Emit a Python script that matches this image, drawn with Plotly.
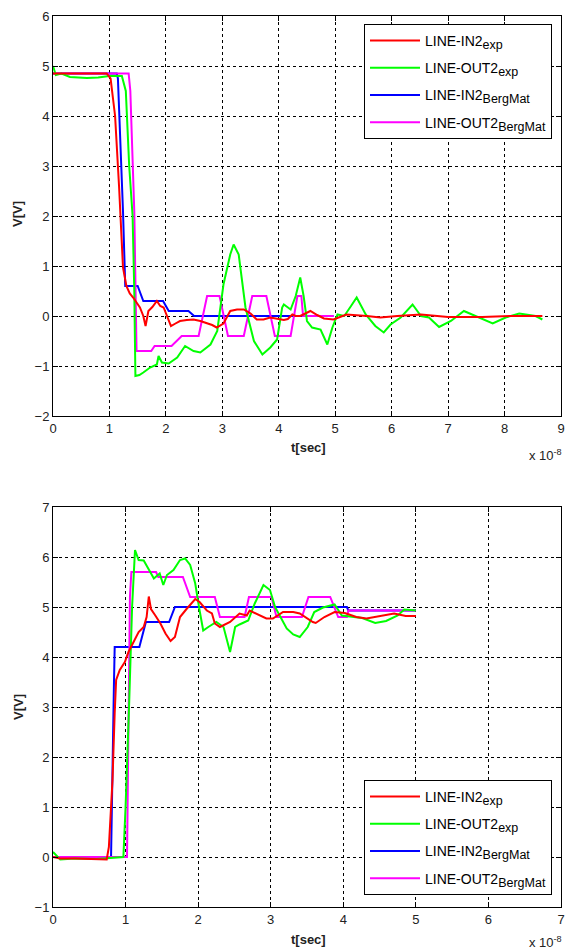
import plotly.graph_objects as go

# ---------------- data (time in units of 1e-8 s) ----------------
# Top panel
top_in2_exp_t = [0, 0.5, 0.95, 1.02, 1.1, 1.17, 1.24, 1.3, 1.36, 1.42, 1.48, 1.54, 1.6, 1.64, 1.69, 1.76, 1.84, 1.9, 1.96,
                 2.02, 2.09, 2.17, 2.25, 2.37, 2.49, 2.61, 2.73, 2.82, 2.9, 3.02, 3.14, 3.26, 3.38, 3.5, 3.61, 3.73, 3.85,
                 3.97, 4.09, 4.16, 4.24, 4.3, 4.38, 4.47, 4.56, 4.68, 4.8, 4.97, 5.2, 5.56, 5.8, 6.1, 6.52, 7.0, 7.6, 8.1, 8.67]
top_in2_exp_v = [4.85, 4.85, 4.85, 4.75, 4.0, 2.6, 0.97, 0.6, 0.45, 0.37, 0.27, 0.17, 0.0, -0.2, 0.1, 0.18, 0.3, 0.2, 0.17,
                 0.0, -0.2, -0.15, -0.1, -0.08, -0.07, -0.1, -0.15, -0.18, -0.23, -0.15, 0.1, 0.13, 0.13, 0.05, -0.07, -0.07, -0.03,
                 -0.05, -0.08, -0.06, 0.03, 0.0, 0.0, 0.05, 0.1, 0.02, -0.05, -0.07, 0.03, 0.0, -0.03, 0.0, 0.03, -0.02, -0.02, 0.0, 0.0]

top_out2_exp_t = [0, 0.05, 0.15, 0.3, 0.6, 0.8, 1.0, 1.22, 1.29, 1.35, 1.41, 1.44, 1.46, 1.53, 1.6, 1.72, 1.84, 1.87, 1.93,
                  2.05, 2.2, 2.34, 2.49, 2.61, 2.79, 2.91, 3.02, 3.14, 3.2, 3.29, 3.41, 3.56, 3.71, 3.85, 3.97, 4.06, 4.09,
                  4.21, 4.3, 4.38, 4.44, 4.5, 4.59, 4.74, 4.86, 4.95, 5.04, 5.16, 5.28, 5.38, 5.54, 5.71, 5.86, 5.98,
                  6.16, 6.37, 6.52, 6.66, 6.84, 7.05, 7.28, 7.49, 7.79, 8.02, 8.26, 8.55, 8.67]
top_out2_exp_v = [5.0, 4.82, 4.85, 4.78, 4.76, 4.77, 4.8, 4.8, 4.5, 3.0, 2.0, 0.5, -1.2, -1.18, -1.13, -1.03, -0.97, -0.8, -0.93,
                  -0.95, -0.83, -0.6, -0.7, -0.73, -0.57, -0.3, 0.63, 1.23, 1.43, 1.23, 0.17, -0.5, -0.77, -0.63, -0.47, 0.17, 0.23,
                  0.13, 0.4, 0.77, 0.4, -0.1, -0.23, -0.27, -0.57, -0.23, 0.03, 0.0, 0.2, 0.37, 0.03, -0.2, -0.33, -0.17,
                  -0.03, 0.23, 0.0, -0.03, -0.22, -0.1, 0.1, 0.0, -0.15, -0.03, 0.05, 0.0, -0.07]

top_in2_berg_t = [0, 1.13, 1.15, 1.2, 1.24, 1.28, 1.5, 1.6, 1.95, 2.05, 2.4, 2.5, 4.97]
top_in2_berg_v = [4.85, 4.85, 4.75, 3.44, 2.1, 0.6, 0.6, 0.3, 0.3, 0.1, 0.1, 0.0, 0.0]

top_out2_berg_t = [0, 1.34, 1.37, 1.39, 1.41, 1.44, 1.48, 1.74, 1.8, 2.1, 2.28, 2.58, 2.73, 2.95, 3.1, 3.38, 3.53,
                   3.78, 3.93, 4.21, 4.33, 4.4, 4.43, 4.97]
top_out2_berg_v = [4.85, 4.85, 4.5, 3.7, 2.9, 2.1, -0.7, -0.7, -0.6, -0.6, -0.4, -0.4, 0.4, 0.4, -0.4, -0.4, 0.4,
                   0.4, -0.4, -0.4, 0.4, 0.4, 0.0, 0.0]

# Bottom panel
bot_in2_exp_t = [0, 0.1, 0.3, 0.5, 0.74, 0.77, 0.82, 0.85, 0.87, 0.92, 0.99, 1.04, 1.11, 1.18, 1.25, 1.29, 1.32, 1.35, 1.41,
                 1.48, 1.55, 1.62, 1.68, 1.75, 1.84, 1.96, 2.02, 2.12, 2.19, 2.23, 2.3, 2.44, 2.57, 2.67, 2.71, 2.8, 2.94,
                 3.03, 3.17, 3.31, 3.4, 3.58, 3.62, 3.74, 3.88, 4.02, 4.18, 4.32, 4.5, 4.7, 4.86, 5.0]
bot_in2_exp_v = [0.0, -0.03, -0.03, -0.04, -0.05, 0.2, 1.54, 2.88, 3.54, 3.74, 3.9, 4.1, 4.3, 4.5, 4.6, 4.8, 5.21, 4.96, 4.83,
                 4.67, 4.47, 4.32, 4.4, 4.8, 4.96, 5.16, 5.1, 4.93, 4.87, 4.67, 4.6, 4.7, 4.87, 4.83, 4.93, 4.87, 4.77,
                 4.77, 4.9, 4.9, 4.87, 4.7, 4.68, 4.8, 4.9, 4.88, 4.8, 4.77, 4.82, 4.87, 4.82, 4.82]

bot_out2_exp_t = [0, 0.1, 0.3, 0.6, 0.97, 1.0, 1.05, 1.09, 1.13, 1.18, 1.25, 1.32, 1.39, 1.47, 1.52, 1.57, 1.66, 1.75, 1.82,
                  1.89, 1.96, 2.02, 2.07, 2.14, 2.25, 2.35, 2.44, 2.51, 2.57, 2.69, 2.78, 2.9, 2.99, 3.06, 3.22, 3.31, 3.4,
                  3.51, 3.6, 3.72, 3.88, 3.98, 4.12, 4.26, 4.44, 4.59, 4.75, 4.84, 5.0]
bot_out2_exp_v = [0.1, -0.05, -0.03, -0.04, 0.0, 1.0, 3.1, 5.0, 6.14, 5.94, 5.93, 5.74, 5.57, 5.67, 5.44, 5.64, 5.74, 5.94, 5.97,
                  5.84, 5.47, 4.93, 4.53, 4.6, 4.7, 4.6, 4.1, 4.6, 4.65, 4.73, 5.07, 5.44, 5.34, 5.0, 4.57, 4.45, 4.4,
                  4.6, 4.9, 4.99, 5.05, 4.83, 4.8, 4.78, 4.68, 4.72, 4.83, 4.95, 4.93]

bot_in2_berg_t = [0, 0.8, 0.84, 0.85, 1.19, 1.28, 1.6, 1.68, 4.05, 4.07, 5.0]
bot_in2_berg_v = [0.0, 0.0, 3.48, 4.2, 4.2, 4.7, 4.7, 5.0, 5.0, 4.93, 4.93]

bot_out2_berg_t = [0, 1.02, 1.06, 1.08, 1.42, 1.45, 1.79, 1.89, 2.23, 2.3, 2.64, 2.7, 3.01, 3.08, 3.43, 3.52, 3.82, 3.93,
                   4.05, 4.07, 5.0]
bot_out2_berg_v = [0.0, 0.0, 5.2, 5.7, 5.7, 5.6, 5.6, 5.2, 5.2, 4.8, 4.8, 5.2, 5.2, 4.8, 4.8, 5.2, 5.2, 4.8,
                   4.8, 4.93, 4.93]

SUB = "<sub><span style='font-size:12.5px'>%s</span></sub>"
names = ["LINE-IN2" + SUB % "exp", "LINE-OUT2" + SUB % "exp",
         "LINE-IN2" + SUB % "BergMat", "LINE-OUT2" + SUB % "BergMat"]
colors = ["#ff0000", "#00ff00", "#0000ff", "#ff00ff"]

top_x_ticks = [0, 1, 2, 3, 4, 5, 6, 7, 8, 9]
top_y_ticks = [-2, -1, 0, 1, 2, 3, 4, 5, 6]
bot_x_ticks = [0, 1, 2, 3, 4, 5, 6, 7]
bot_y_ticks = [-1, 0, 1, 2, 3, 4, 5, 6, 7]

W, H = 566, 951
FONT = "Liberation Sans, Arial, sans-serif"

fig = go.Figure()

top_series = [(top_in2_exp_t, top_in2_exp_v), (top_out2_exp_t, top_out2_exp_v),
              (top_in2_berg_t, top_in2_berg_v), (top_out2_berg_t, top_out2_berg_v)]
bot_series = [(bot_in2_exp_t, bot_in2_exp_v), (bot_out2_exp_t, bot_out2_exp_v),
              (bot_in2_berg_t, bot_in2_berg_v), (bot_out2_berg_t, bot_out2_berg_v)]

# draw order: blue, magenta, green, red (red on top)
order = [2, 3, 1, 0]
for i in order:
    t, v = top_series[i]
    fig.add_trace(go.Scatter(x=t, y=v, mode="lines", name=names[i],
                             line=dict(color=colors[i], width=2),
                             xaxis="x", yaxis="y", legend="legend",
                             legendgroup="top%d" % i, legendrank=i + 1))
for i in order:
    t, v = bot_series[i]
    fig.add_trace(go.Scatter(x=t, y=v, mode="lines", name=names[i],
                             line=dict(color=colors[i], width=2),
                             xaxis="x2", yaxis="y2", legend="legend2",
                             legendgroup="bot%d" % i, legendrank=i + 1))

def px_x(p):
    return p / W

def px_y(p):
    return 1 - p / H

axis_common = dict(showline=True, linecolor="black", linewidth=1, mirror="ticks",
                   ticks="inside", ticklen=5, tickcolor="black", automargin=False,
                   showgrid=True, gridcolor="black", gridwidth=1, griddash="dot",
                   zeroline=False, tickfont=dict(family=FONT, size=13, color="#222"))

legend_common = dict(xanchor="left", yanchor="top",
                     bgcolor="white", bordercolor="black", borderwidth=1,
                     font=dict(family=FONT, size=14, color="black"), itemwidth=50,
                     tracegroupgap=6)

fig.update_layout(
    width=W, height=H,
    margin=dict(l=0, r=0, t=0, b=0, autoexpand=False),
    paper_bgcolor="white", plot_bgcolor="white",
    font=dict(family=FONT, color="black"),
    xaxis=dict(domain=[px_x(53), px_x(561)], range=[0, 9], tickvals=top_x_ticks,
               anchor="y", **axis_common),
    yaxis=dict(domain=[px_y(416), px_y(16)], range=[-2, 6], tickvals=top_y_ticks,
               anchor="x", **axis_common),
    xaxis2=dict(domain=[px_x(53), px_x(561)], range=[0, 7], tickvals=bot_x_ticks,
                anchor="y2", **axis_common),
    yaxis2=dict(domain=[px_y(907), px_y(507)], range=[-1, 7], tickvals=bot_y_ticks,
                anchor="x2", **axis_common),
    legend=dict(x=px_x(364), y=px_y(24), **legend_common),
    legend2=dict(x=px_x(364), y=px_y(780), **legend_common),
    showlegend=True,
)

annots = [
    dict(text="<b>V[V]</b>", x=px_x(18), y=px_y(214), textangle=-90, xanchor="center"),
    dict(text="<b>t[sec]</b>", x=px_x(308), y=px_y(448), xanchor="center"),
    dict(text="x 10<sup>-8</sup>", x=px_x(564), y=px_y(455), xanchor="right"),
    dict(text="<b>V[V]</b>", x=px_x(18), y=px_y(707), textangle=-90, xanchor="center"),
    dict(text="<b>t[sec]</b>", x=px_x(308), y=px_y(939), xanchor="center"),
    dict(text="x 10<sup>-8</sup>", x=px_x(564), y=px_y(942), xanchor="right"),
]
for a in annots:
    fig.add_annotation(xref="paper", yref="paper", showarrow=False,
                       yanchor="middle",
                       font=dict(family=FONT, size=13, color="#222"), **a)

fig.write_html("out.html", config={"displayModeBar": False},
               post_script="document.body.style.margin='0';document.body.style.overflow='hidden';")
